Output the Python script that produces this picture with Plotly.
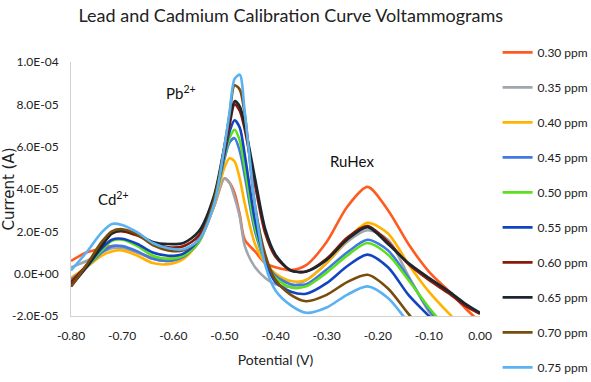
import plotly.graph_objects as go

# potential (V)
potential = [-0.80, -0.77, -0.74, -0.72, -0.70, -0.67, -0.64, -0.61, -0.58, -0.55,
             -0.52, -0.50, -0.49, -0.48, -0.47, -0.46, -0.44, -0.42, -0.40, -0.37,
             -0.34, -0.30, -0.26, -0.22, -0.18, -0.14, -0.10, -0.06, -0.03, 0.00]

# current in units of 1e-5 A
ppm_030 = [0.6, 1.0, 1.2, 1.3, 1.25, 1.0, 0.75, 0.7, 0.9, 1.5,
           3.2, 4.5, 4.3, 3.8, 2.8, 1.6, 1.05, 0.5, 0.3, 0.17,
           0.4, 1.5, 3.15, 4.1, 3.0, 1.4, 0.1, -0.85, -1.6, -2.3]
ppm_035 = [0.3, 0.6, 1.0, 1.2, 1.2, 1.0, 0.7, 0.6, 0.8, 1.5,
           3.2, 4.5, 4.3, 3.6, 2.7, 1.3, 0.3, -0.2, -0.5, -0.6,
           -0.3, 0.5, 1.5, 2.05, 1.6, -0.1, -1.8, -3.0, -3.5, -4.0]
ppm_040 = [-0.2, 0.3, 0.85, 1.05, 1.1, 0.85, 0.5, 0.45, 0.7, 1.5,
           3.3, 5.0, 5.45, 5.3, 4.5, 3.3, 1.4, 0.5, 0.0, -0.35,
           -0.3, 0.5, 1.6, 2.4, 1.9, 0.45, -0.85, -1.9, -2.6, -3.2]
ppm_045 = [-0.3, 0.3, 1.0, 1.3, 1.3, 1.05, 0.7, 0.6, 0.8, 1.5,
           3.4, 5.4, 6.2, 6.4, 5.8, 4.6, 2.0, 0.6, -0.1, -0.5,
           -0.5, 0.2, 1.0, 1.6, 1.1, -0.2, -1.7, -2.8, -3.4, -4.0]
ppm_050 = [-0.4, 0.3, 1.1, 1.55, 1.6, 1.3, 0.85, 0.7, 0.85, 1.5,
           3.4, 5.5, 6.4, 6.8, 6.3, 5.0, 2.2, 0.6, -0.2, -0.65,
           -0.6, 0.05, 0.85, 1.45, 0.9, -0.3, -1.6, -2.7, -3.3, -3.9]
ppm_055 = [-0.5, 0.3, 1.2, 1.6, 1.65, 1.4, 1.0, 0.85, 0.95, 1.6,
           3.5, 5.6, 6.7, 7.25, 6.9, 5.6, 2.5, 0.6, -0.4, -0.85,
           -0.95, -0.45, 0.35, 0.9, 0.3, -1.0, -2.0, -3.0, -3.6, -4.2]
ppm_060 = [-0.4, 0.4, 1.4, 1.9, 2.0, 1.8, 1.45, 1.25, 1.3, 1.8,
           3.6, 5.8, 7.0, 8.0, 7.7, 6.8, 4.2, 1.9, 0.8, 0.15,
           0.1, 0.7, 1.7, 2.25, 1.5, 0.45, -0.3, -0.95, -1.5, -1.9]
ppm_065 = [-0.6, 0.3, 1.3, 1.9, 2.05, 1.85, 1.5, 1.4, 1.45, 2.0,
           3.7, 6.0, 7.2, 8.15, 7.9, 7.0, 4.5, 2.1, 0.9, 0.15,
           0.1, 0.65, 1.6, 2.2, 1.4, 0.5, -0.2, -0.85, -1.4, -1.85]
ppm_070 = [-0.6, 0.4, 1.5, 2.0, 2.1, 1.85, 1.35, 1.1, 1.1, 1.6,
           3.5, 6.0, 7.5, 8.9, 8.7, 7.5, 3.2, 0.9, -0.3, -1.0,
           -1.3, -1.0, -0.4, -0.05, -0.7, -1.9, -3.0, -3.8, -4.3, -4.8]
ppm_075 = [0.15, 1.0, 1.95, 2.35, 2.3, 1.95, 1.45, 1.2, 1.15, 1.6,
           3.3, 6.0, 7.6, 9.2, 9.4, 7.6, 3.2, 0.4, -0.8, -1.5,
           -1.85, -1.6, -1.0, -0.6, -1.15, -2.3, -3.3, -4.0, -4.5, -5.0]

series_names = ["0.30 ppm", "0.35 ppm", "0.40 ppm", "0.45 ppm", "0.50 ppm",
                "0.55 ppm", "0.60 ppm", "0.65 ppm", "0.70 ppm", "0.75 ppm"]
series_values = [ppm_030, ppm_035, ppm_040, ppm_045, ppm_050,
                 ppm_055, ppm_060, ppm_065, ppm_070, ppm_075]
colors = ["#FF5A1F", "#A0A6AC", "#FFB300", "#4079E0", "#5CE01E",
          "#1244C0", "#8A1A08", "#1C2630", "#7A4C0C", "#5AB2F2"]

x_ticks = [-0.8, -0.7, -0.6, -0.5, -0.4, -0.3, -0.2, -0.1, 0.0]
x_tick_labels = ["-0.80", "-0.70", "-0.60", "-0.50", "-0.40", "-0.30", "-0.20", "-0.10", "0.00"]
y_ticks = [-2e-5, 0, 2e-5, 4e-5, 6e-5, 8e-5, 1e-4]
y_tick_labels = ["-2.0E-05", "0.0E+00", "2.0E-05", "4.0E-05", "6.0E-05", "8.0E-05", "1.0E-04"]

font_main = "Lato, Liberation Sans, sans-serif"

fig = go.Figure()
for name, vals, col in zip(series_names, series_values, colors):
    fig.add_trace(go.Scatter(
        x=potential, y=[v * 1e-5 for v in vals], name=name, mode="lines",
        line=dict(color=col, width=2.6, shape="spline", smoothing=0.8),
        legendgroup=name,
    ))

# peak labels
fig.add_annotation(x=-0.716, y=3.55e-5, text="Cd<sup>2+</sup>", showarrow=False,
                   font=dict(family=font_main, size=15, color="#111"))
fig.add_annotation(x=-0.585, y=8.55e-5, text="Pb<sup>2+</sup>", showarrow=False,
                   font=dict(family=font_main, size=15, color="#111"))
fig.add_annotation(x=-0.25, y=5.3e-5, text="RuHex", showarrow=False,
                   font=dict(family=font_main, size=15, color="#111"))

fig.update_layout(
    width=591, height=382,
    margin=dict(l=71, r=111, t=62, b=66, autoexpand=False),
    paper_bgcolor="white", plot_bgcolor="white",
    title=dict(text="Lead and Cadmium Calibration Curve Voltammograms",
               x=0.492, xref="container", xanchor="center",
               y=0.975, yref="container", yanchor="top",
               font=dict(family=font_main, size=18, color="#222")),
    showlegend=True,
    legend=dict(x=1.043, xanchor="left", y=1.095, yanchor="top",
                font=dict(family=font_main, size=12, color="#222"),
                tracegroupgap=16, itemwidth=30, maxheight=380,
                bgcolor="rgba(0,0,0,0)"),
    xaxis=dict(range=[-0.8, 0.0], tickvals=x_ticks, ticktext=x_tick_labels,
               showgrid=False, zeroline=False, showline=True, linecolor="#D0D0D0",
               linewidth=1, ticks="", ticklabelstandoff=9,
               tickfont=dict(family=font_main, size=12, color="#222"),
               title=dict(text="Potential (V)", standoff=12,
                          font=dict(family=font_main, size=14, color="#222"))),
    yaxis=dict(range=[-2e-5, 1e-4], tickvals=y_ticks, ticktext=y_tick_labels,
               showgrid=False, zeroline=False, showline=True, linecolor="#D0D0D0",
               linewidth=1, ticks="", ticklabelstandoff=9,
               tickfont=dict(family=font_main, size=12, color="#222"),
               title=dict(text="Current (A)", standoff=0,
                          font=dict(family="DejaVu Sans, Verdana, sans-serif", size=15, color="#222"))),
)

fig.write_html("out.html", config={"displayModeBar": False},
               post_script="document.body.style.margin='0px';")
